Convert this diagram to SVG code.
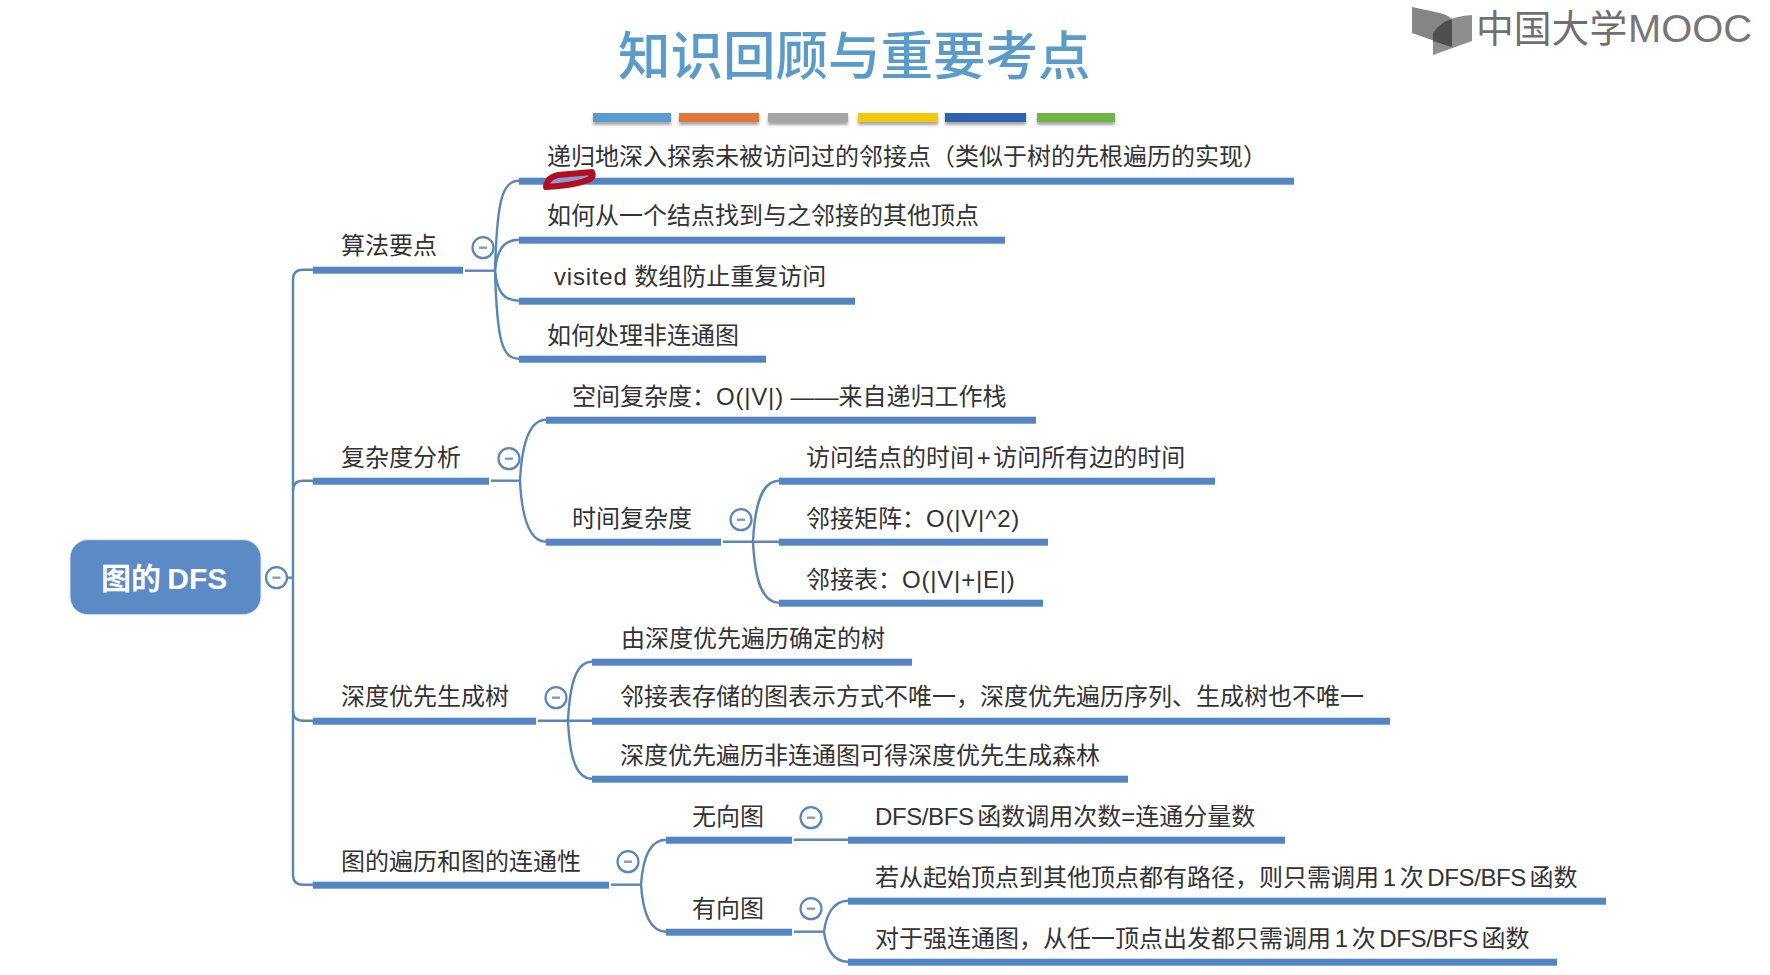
<svg xmlns="http://www.w3.org/2000/svg" width="1770" height="975" viewBox="0 0 1770 975">
<style>
text{font-family:"Liberation Sans","Noto Sans CJK SC",sans-serif;fill:#333;font-size:24px}
.tree text{transform:translateY(-.7px)}
.bar{fill:#5484c2}
.link{fill:none;stroke:#5a85b8;stroke-width:2.4}
.tog circle{fill:#fff;stroke:#5a85b8;stroke-width:2.2}
.tog line{stroke:#8a9aaf;stroke-width:2.4}
.strip{filter:url(#lift)}
.wide{letter-spacing:.8px}
.tight{word-spacing:-3px}
.latin{letter-spacing:-.4px}
</style>
<defs>
<filter id="lift" x="-10%" y="-50%" width="120%" height="250%"><feDropShadow dx="0" dy="3" stdDeviation="1.5" flood-color="#000" flood-opacity="0.35"/></filter>
<g id="minus" class="tog"><circle r="10.5"/><line x1="-4" x2="4" y1="0" y2="0"/></g>
</defs>
<rect width="1770" height="975" fill="#fff"/>

<!-- heading and colour strip -->
<g id="title"><text x="618" y="75" style="font-size:52.5px;font-weight:500;fill:#5b9bc9;font-family:'Noto Sans CJK SC',sans-serif">知识回顾与重要考点</text></g>
<g id="strip" class="strip">
<rect x="593" y="113" width="78" height="9" fill="#5b9bd0"/>
<rect x="679" y="113" width="80" height="9" fill="#e0773a"/>
<rect x="768" y="113" width="80" height="9" fill="#a5a5a5"/>
<rect x="858" y="113" width="80" height="9" fill="#f2c80f"/>
<rect x="945" y="113" width="81" height="9" fill="#2f62ae"/>
<rect x="1037" y="113" width="78" height="9" fill="#70b544"/>
</g>

<!-- publisher mark -->
<g id="logo">
<path d="M1412 7L1440 13Q1452 16 1452 22V47L1412 33Z" fill="#858585"/>
<path d="M1433 55V33Q1441 17 1472 15V41Z" fill="#8e8e8e"/>
<path d="M1433 33Q1440 22 1452 19V47L1433 41Z" fill="#4f4f4f"/>
<text x="1476" y="41.5" style="font-size:37.8px;fill:#6f6f6f">中国大学</text>
<text x="1628" y="42" textLength="124" lengthAdjust="spacingAndGlyphs" style="font-size:38px;fill:#777">MOOC</text>
</g>

<g class="tree" transform="translate(0 0.7)">
<!-- connectors between branches -->
<g id="connectors">
<path class="link" d="M313 269H303Q293 269 293 279V874Q293 884 303 884H313"/>
<path class="link" d="M293 490Q293 480 303 480H313M293 710Q293 720 303 720H313"/>
<path class="link" d="M287 577H293"/>

<path class="link" d="M465 270H495"/>
<path class="link" d="M519 180C502 180 497 200 495 270C497 340 502 358 519 358"/>
<path class="link" d="M519 239C503 239 497 250 495 270C497 290 503 300 519 300"/>

<path class="link" d="M491 480H520"/>
<path class="link" d="M546 419C530 419 522 440 520 480C522 520 530 541 546 541"/>

<path class="link" d="M723 541H779"/>
<path class="link" d="M779 480C763 480 755 500 753 541C755 582 763 602 779 602"/>

<path class="link" d="M538 720H592"/>
<path class="link" d="M592 661C577 661 570 680 568 720C570 760 577 778 592 778"/>

<path class="link" d="M611 884H641"/>
<path class="link" d="M666 839C651 839 643 855 641 884C643 913 651 931 666 931"/>

<path class="link" d="M794 839H848"/>
<path class="link" d="M794 931H824"/>
<path class="link" d="M848 900C833 900 826 915 824 931C826 947 833 961 848 961"/>
</g>

<!-- root -->
<g id="root">
<rect x="70" y="539" width="191" height="75" rx="18" fill="#5b8ac6" stroke="#dbe6f3" stroke-width="1"/>
<text x="101" y="589" style="font-size:30px;font-weight:700;fill:#fff;word-spacing:-2px">图的 DFS</text>
<use href="#minus" x="276.5" y="577"/>
</g>

<!-- 算法要点 -->
<g id="n-algo"><rect class="bar" x="313" y="266" width="150" height="7"/><text x="341" y="254">算法要点</text><use href="#minus" x="483" y="247"/></g>
<g id="n-algo-1"><rect class="bar" x="519" y="177" width="775" height="7"/><text x="547" y="165">递归地深入探索未被访问过的邻接点（类似于树的先根遍历的实现）</text></g>
<g id="n-algo-2"><rect class="bar" x="519" y="236" width="486" height="7"/><text x="547" y="224">如何从一个结点找到与之邻接的其他顶点</text></g>
<g id="n-algo-3"><rect class="bar" x="519" y="297" width="336" height="7"/><text x="554" y="285"><tspan class="wide">visited</tspan> 数组防止重复访问</text></g>
<g id="n-algo-4"><rect class="bar" x="519" y="355" width="247" height="7"/><text x="547" y="344">如何处理非连通图</text></g>

<!-- 复杂度分析 -->
<g id="n-cost"><rect class="bar" x="313" y="477" width="176" height="7"/><text x="341" y="466">复杂度分析</text><use href="#minus" x="509" y="458"/></g>
<g id="n-space"><rect class="bar" x="546" y="416" width="490" height="7"/><text x="572" y="405">空间复杂度：<tspan class="wide">O(|V|)</tspan> ——来自递归工作栈</text></g>
<g id="n-time"><rect class="bar" x="546" y="538" width="175" height="7"/><text x="572" y="527">时间复杂度</text><use href="#minus" x="741" y="519"/></g>
<g id="n-time-1"><rect class="bar" x="779" y="477" width="436" height="7"/><text x="806" y="466" style="word-spacing:-4px">访问结点的时间 + 访问所有边的时间</text></g>
<g id="n-time-2"><rect class="bar" x="779" y="538" width="269" height="7"/><text x="806" y="527">邻接矩阵：<tspan class="wide">O(|V|^2)</tspan></text></g>
<g id="n-time-3"><rect class="bar" x="779" y="599" width="264" height="7"/><text x="806" y="588">邻接表：<tspan class="wide">O(|V|+|E|)</tspan></text></g>

<!-- 深度优先生成树 -->
<g id="n-tree"><rect class="bar" x="313" y="717" width="223" height="7"/><text x="341" y="705">深度优先生成树</text><use href="#minus" x="556" y="697"/></g>
<g id="n-tree-1"><rect class="bar" x="592" y="658" width="320" height="7"/><text x="621" y="647">由深度优先遍历确定的树</text></g>
<g id="n-tree-2"><rect class="bar" x="592" y="717" width="798" height="7"/><text x="620" y="705">邻接表存储的图表示方式不唯一，深度优先遍历序列、生成树也不唯一</text></g>
<g id="n-tree-3"><rect class="bar" x="592" y="775" width="536" height="7"/><text x="620" y="764">深度优先遍历非连通图可得深度优先生成森林</text></g>

<!-- 图的遍历和图的连通性 -->
<g id="n-conn"><rect class="bar" x="313" y="881" width="296" height="7"/><text x="341" y="870">图的遍历和图的连通性</text><use href="#minus" x="628" y="861"/></g>
<g id="n-undirected"><rect class="bar" x="666" y="836" width="126" height="7"/><text x="692" y="825">无向图</text><use href="#minus" x="811" y="817"/></g>
<g id="n-undirected-1"><rect class="bar" x="848" y="836" width="437" height="7"/><text x="875" y="825" class="tight"><tspan class="latin">DFS/BFS</tspan> 函数调用次数=连通分量数</text></g>
<g id="n-directed"><rect class="bar" x="666" y="928" width="126" height="7"/><text x="692" y="917">有向图</text><use href="#minus" x="811" y="908"/></g>
<g id="n-directed-1"><rect class="bar" x="848" y="897" width="758" height="7"/><text x="875" y="886" class="tight">若从起始顶点到其他顶点都有路径，则只需调用 1 次 <tspan class="latin">DFS/BFS</tspan> 函数</text></g>
<g id="n-directed-2"><rect class="bar" x="848" y="958" width="709" height="7"/><text x="875" y="947" class="tight">对于强连通图，从任一顶点出发都只需调用 1 次 <tspan class="latin">DFS/BFS</tspan> 函数</text></g>
</g>

<!-- handwritten red underline stroke -->
<path id="pen" d="M546 186Q548 177 558 175L592 172Q594 176 590 179Q578 185 546 187Z" fill="#8f97d6" stroke="#b0101e" stroke-width="6" stroke-linejoin="round"/>
</svg>
